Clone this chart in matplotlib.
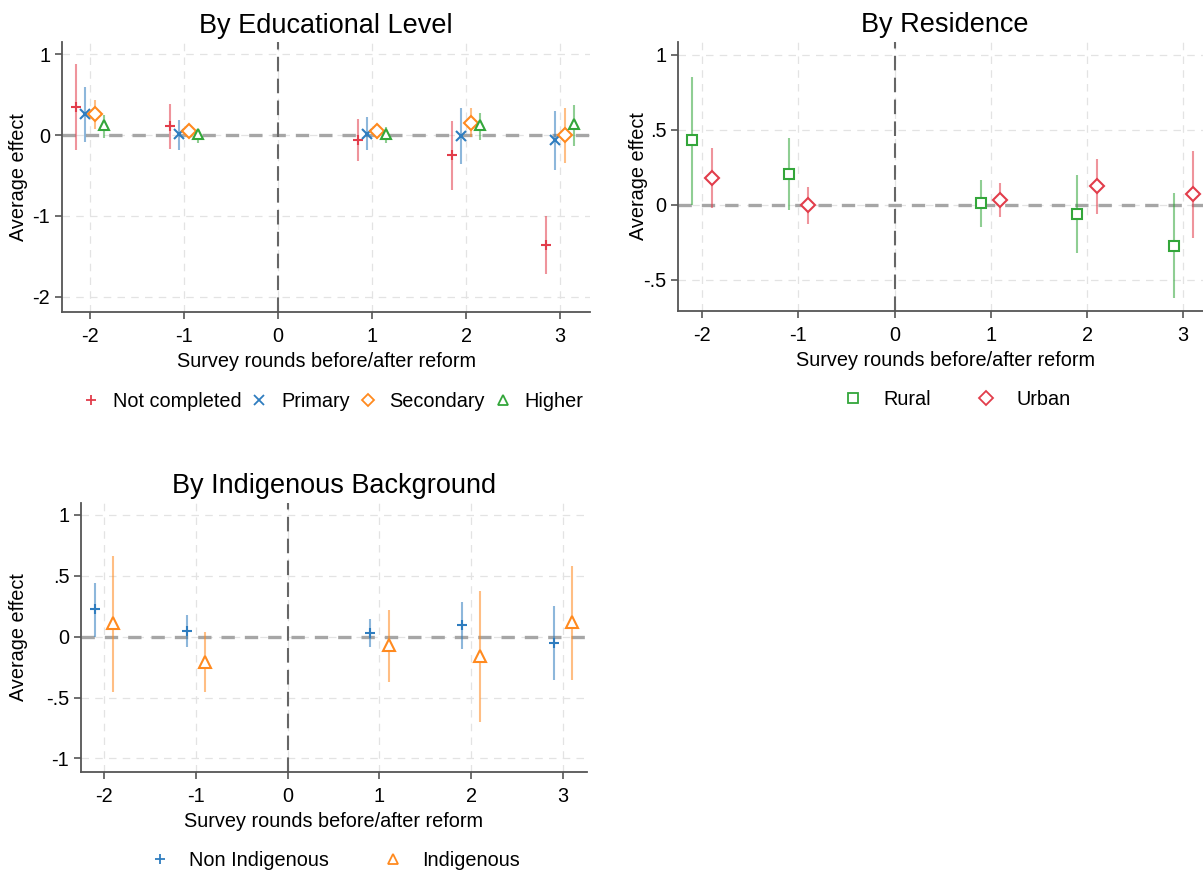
import numpy as np
import matplotlib
matplotlib.use('Agg')
import matplotlib.pyplot as plt
from matplotlib.lines import Line2D

# Data
##############################################################################
rounds = [-2, -1, 1, 2, 3]

# By Educational Level: point estimate, upper CI, lower CI
edu_groups = ['Not completed', 'Primary', 'Secondary', 'Higher']
edu_est = [[0.35, 0.11, -0.06, -0.24, -1.36],
           [0.26, 0.01, 0.02, -0.01, -0.06],
           [0.26, 0.05, 0.05, 0.15, 0.00],
           [0.12, 0.01, 0.02, 0.12, 0.14]]
edu_hi = [[0.88, 0.38, 0.20, 0.18, -1.00],
          [0.60, 0.19, 0.22, 0.34, 0.30],
          [0.43, 0.14, 0.14, 0.33, 0.34],
          [0.25, 0.08, 0.10, 0.28, 0.37]]
edu_lo = [[-0.19, -0.17, -0.32, -0.68, -1.72],
          [-0.09, -0.19, -0.18, -0.36, -0.43],
          [0.08, -0.03, -0.05, -0.02, -0.35],
          [-0.04, -0.10, -0.10, -0.06, -0.13]]

# By Residence
res_groups = ['Rural', 'Urban']
res_est = [[0.43, 0.205, 0.01, -0.06, -0.275],
           [0.176, -0.005, 0.033, 0.122, 0.07]]
res_hi = [[0.855, 0.445, 0.167, 0.20, 0.076],
          [0.376, 0.12, 0.147, 0.305, 0.356]]
res_lo = [[0.0, -0.035, -0.15, -0.325, -0.626],
          [-0.02, -0.13, -0.085, -0.06, -0.22]]

# By Indigenous Background
ind_groups = ['Non Indigenous', 'Indigenous']
ind_est = [[0.225, 0.047, 0.033, 0.096, -0.05],
           [0.11, -0.205, -0.068, -0.159, 0.123]]
ind_hi = [[0.44, 0.178, 0.145, 0.288, 0.255],
          [0.663, 0.035, 0.22, 0.375, 0.583]]
ind_lo = [[0.0, -0.088, -0.082, -0.104, -0.36],
          [-0.452, -0.452, -0.37, -0.70, -0.356]]

RED = '#e23d4b'
BLUE = '#2f7dbf'
ORANGE = '#ff8a1f'
GREEN = '#33a63a'

# Plot
##############################################################################
plt.rcParams['font.family'] = ['Liberation Sans', 'DejaVu Sans']
plt.rcParams['font.size'] = 14.3

fig = plt.figure(figsize=(12.03, 8.76), dpi=100)
ax1 = fig.add_axes([0.0515, 0.6438, 0.439, 0.308])
ax2 = fig.add_axes([0.5636, 0.6450, 0.444, 0.307])
ax3 = fig.add_axes([0.0673, 0.1190, 0.4206, 0.3070])


def style_axes(ax, xlim, ylim, yticks, yticklabels, title, ylab_x):
    ax.set_xlim(xlim)
    ax.set_ylim(ylim)
    ax.set_xticks([-2, -1, 0, 1, 2, 3])
    ax.set_xticklabels(['-2', '-1', '0', '1', '2', '3'])
    ax.set_yticks(yticks)
    ax.set_yticklabels(yticklabels)
    ax.grid(True, color='#e3e3e3', linestyle=(0, (6, 5)), linewidth=0.9)
    ax.set_axisbelow(True)
    for s in ['top', 'right']:
        ax.spines[s].set_visible(False)
    for s in ['left', 'bottom']:
        ax.spines[s].set_color('#555555')
        ax.spines[s].set_linewidth(1.3)
    ax.tick_params(which='both', direction='out', length=5, width=1.2,
                   color='#555555', labelcolor='black')
    ax.tick_params(axis='x', pad=6)
    ax.axhline(0, color='#a6a6a6', linestyle=(0, (4, 3)), linewidth=2.4, zorder=1)
    ax.axvline(0, color='#666666', linestyle=(0, (7, 3.5)), linewidth=1.5, zorder=1)
    ax.set_xlabel('Survey rounds before/after reform', labelpad=4)
    ax.set_ylabel('Average effect')
    ax.yaxis.set_label_coords(ylab_x, 0.5)
    ax.set_title(title, fontsize=19.5, pad=7)


def draw_series(ax, est, hi, lo, offsets, colors, markers, sizes, fills):
    handles = []
    for k in range(len(est)):
        xs = np.array(rounds) + offsets[k]
        ax.vlines(xs, lo[k], hi[k], color=colors[k], alpha=0.55, linewidth=1.5, zorder=2)
        mfc = colors[k] if fills[k] else 'white'
        ax.plot(xs, est[k], linestyle='none', marker=markers[k], markersize=sizes[k],
                markeredgecolor=colors[k], markerfacecolor=mfc, markeredgewidth=1.5, zorder=3)
        handles.append(Line2D([], [], linestyle='none', marker=markers[k], markersize=sizes[k] - 0.5,
                              markeredgecolor=colors[k], markerfacecolor=mfc, markeredgewidth=1.3))
    return handles


# Panel 1
style_axes(ax1, (-2.3, 3.32), (-2.19, 1.15), [1, 0, -1, -2], ['1', '0', '-1', '-2'],
           'By Educational Level', -0.064)
h1 = draw_series(ax1, edu_est, edu_hi, edu_lo, [-0.15, -0.05, 0.05, 0.15],
                 [RED, BLUE, ORANGE, GREEN], ['+', 'x', 'D', '^'], [7.5, 7.5, 7, 7.5],
                 [True, True, False, False])
ax1.legend(h1, edu_groups, loc='center', bbox_to_anchor=(0.51, -0.33), ncol=4,
           frameon=False, handletextpad=0.5, columnspacing=0.3, handlelength=1.2)

# Panel 2
style_axes(ax2, (-2.25, 3.3), (-0.71, 1.085), [1, 0.5, 0, -0.5], ['1', '.5', '0', '-.5'],
           'By Residence', -0.056)
h2 = draw_series(ax2, res_est, res_hi, res_lo, [-0.1, 0.1],
                 [GREEN, RED], ['s', 'D'], [7.5, 7.5], [False, False])
ax2.legend(h2, res_groups, loc='center', bbox_to_anchor=(0.52, -0.33), ncol=2,
           frameon=False, handletextpad=0.9, columnspacing=2.2, handlelength=1.2)

# Panel 3
style_axes(ax3, (-2.25, 3.26), (-1.11, 1.1), [1, 0.5, 0, -0.5, -1], ['1', '.5', '0', '-.5', '-1'],
           'By Indigenous Background', -0.105)
h3 = draw_series(ax3, ind_est, ind_hi, ind_lo, [-0.1, 0.1],
                 [BLUE, ORANGE], ['+', '^'], [7.5, 8], [True, False])
ax3.legend(h3, ind_groups, loc='center', bbox_to_anchor=(0.5, -0.33), ncol=2,
           frameon=False, handletextpad=0.9, columnspacing=2.6, handlelength=1.2)

fig.savefig('out.png', dpi=100)
